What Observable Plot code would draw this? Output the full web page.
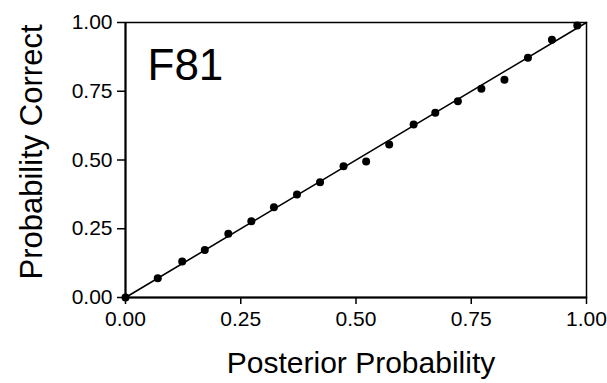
<!DOCTYPE html>
<html>
<head>
<meta charset="utf-8">
<script src="https://cdn.jsdelivr.net/npm/d3@7"></script>
<script src="https://cdn.jsdelivr.net/npm/@observablehq/plot@0.6"></script>
<style>
  html, body { margin: 0; padding: 0; background: #fff; }
  svg { font-family: "Liberation Sans", Arial, Helvetica, sans-serif; }
</style>
</head>
<body>
<div id="chart"></div>
<script>
// Data
const posterior = [0, 0.070, 0.123, 0.172, 0.223, 0.273, 0.322, 0.372, 0.422, 0.473, 0.522, 0.572, 0.625, 0.672, 0.721, 0.772, 0.822, 0.873, 0.925, 0.980];
const correct   = [0, 0.070, 0.131, 0.173, 0.232, 0.277, 0.328, 0.375, 0.419, 0.477, 0.495, 0.556, 0.629, 0.672, 0.714, 0.759, 0.792, 0.872, 0.937, 0.989];
const lineX = [0, 1];
const lineY = [0, 1];
const tickValues = [0, 0.25, 0.5, 0.75, 1];
const panelLabel = "F81";
const xLabel = "Posterior Probability";
const yLabel = "Probability Correct";

const points = posterior.map((p, i) => ({x: p, y: correct[i]}));
const diag = lineX.map((v, i) => ({x: v, y: lineY[i]}));

const chart = Plot.plot({
  width: 607,
  height: 383,
  marginLeft: 125,
  marginRight: 21,
  marginTop: 22,
  marginBottom: 86,
  style: {fontFamily: '"Liberation Sans", Arial, Helvetica, sans-serif', background: "#fff", color: "#000"},
  x: {domain: [0, 1]},
  y: {domain: [0, 1]},
  marks: [
    Plot.frame({stroke: "#000", strokeWidth: 1.5}),
    Plot.ruleX([0], {stroke: "#000", strokeWidth: 2}),
    Plot.ruleY([0], {stroke: "#000", strokeWidth: 2}),
    Plot.axisX({ticks: tickValues, tickFormat: d3.format(".2f"), tickSize: 7, tickPadding: 7, fontSize: 21, strokeWidth: 1.5, label: null}),
    Plot.axisY({ticks: tickValues, tickFormat: d3.format(".2f"), tickSize: 8, tickPadding: 5, fontSize: 21, strokeWidth: 1.5, label: null}),
    Plot.line(diag, {x: "x", y: "y", stroke: "#000", strokeWidth: 1.6}),
    Plot.dot(points, {x: "x", y: "y", r: 4, fill: "#000", stroke: "none"}),
    Plot.text([panelLabel], {frameAnchor: "top-left", dx: 22, dy: 57, text: d => d, fontSize: 44, textAnchor: "start", lineAnchor: "bottom", fill: "#000"}),
    Plot.text([xLabel], {frameAnchor: "bottom", dx: 5, dy: 75, text: d => d, fontSize: 30, textAnchor: "middle", lineAnchor: "bottom", fill: "#000"}),
    Plot.text([yLabel], {frameAnchor: "left", dx: -84, dy: -8, rotate: -90, text: d => d, fontSize: 31, textAnchor: "middle", lineAnchor: "bottom", fill: "#000"})
  ]
});
document.getElementById("chart").appendChild(chart);
</script>
</body>
</html>
